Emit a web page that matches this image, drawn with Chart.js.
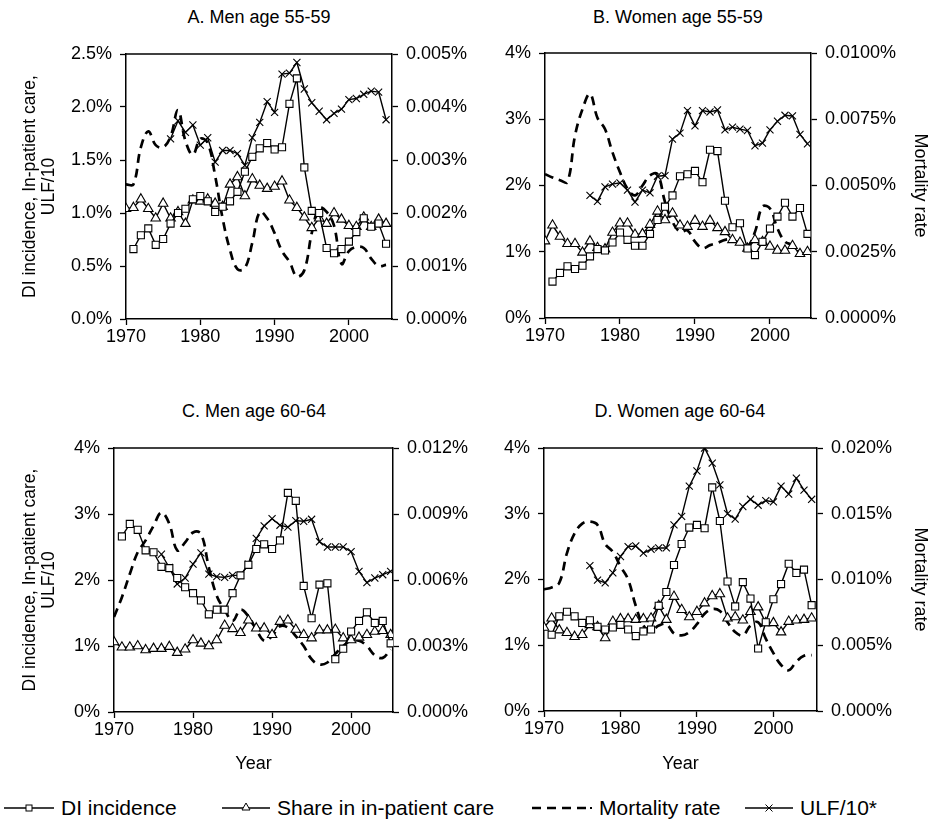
<!DOCTYPE html>
<html>
<head>
<meta charset="utf-8">
<script src="https://cdn.jsdelivr.net/npm/chart.js@4.4.1/dist/chart.umd.min.js"></script>
<style>
  body { margin: 0; background: #fff; width: 936px; height: 824px; position: relative; overflow: hidden;
         font-family: "Liberation Sans", Arial, sans-serif; color: #000; }
  canvas { position: absolute; }
  .ttl { position: absolute; font-size: 18px; line-height: 20px; transform: translateX(-50%); white-space: nowrap; }
  .lg { position: absolute; top: 796px; font-size: 21px; line-height: 24px; white-space: nowrap; }
  .lg svg { position: absolute; top: 1px; }
</style>
</head>
<body>
<div class="ttl" style="left:259px;top:7px">A. Men age 55-59</div>
<div class="ttl" style="left:678px;top:7px">B. Women age 55-59</div>
<div class="ttl" style="left:254px;top:401px">C. Men age 60-64</div>
<div class="ttl" style="left:680px;top:401px">D. Women age 60-64</div>

<canvas id="chartA" width="470" height="360" style="left:0;top:0"></canvas>
<canvas id="chartB" width="466" height="360" style="left:470px;top:0"></canvas>
<canvas id="chartC" width="470" height="410" style="left:0;top:380px"></canvas>
<canvas id="chartD" width="466" height="410" style="left:470px;top:380px"></canvas>

<div id="legend"></div>

<script>
// years on the x axis
const years = [1970,1971,1972,1973,1974,1975,1976,1977,1978,1979,
               1980,1981,1982,1983,1984,1985,1986,1987,1988,1989,
               1990,1991,1992,1993,1994,1995,1996,1997,1998,1999,
               2000,2001,2002,2003,2004,2005];

// A. Men 55-59 (left axis in %, mortality on right axis in %)
const diA    = [null,0.66,0.79,0.855,0.70,0.755,0.90,1.00,1.04,1.13, 1.16,1.11,1.01,1.06,1.11,1.20,1.39,1.53,1.61,1.66,
                1.60,1.62,2.03,2.27,1.43,1.02,1.00,0.67,0.62,0.66, 0.73,0.82,0.95,0.87,0.90,0.71];
const shareA = [1.04,1.05,1.13,1.04,0.95,1.09,0.95,1.01,0.90,1.12, 1.11,1.13,1.09,1.06,1.27,1.34,1.16,1.32,1.26,1.23,
                1.25,1.30,1.12,1.05,0.96,0.86,0.95,0.90,1.00,0.94, 0.88,0.87,0.96,0.87,0.94,0.90];
const mortA  = [0.00254,0.00254,0.00324,0.00354,0.00328,0.00324,0.00344,0.00394,0.00336,0.0031,
                0.0034,0.00332,0.0027,0.0019,0.0013,0.00094,0.00096,0.00144,0.00202,0.0019,
                0.00162,0.00128,0.00108,0.0008,0.00092,0.00162,0.0021,0.00202,0.00176,0.00104,
                0.00128,0.00136,0.00134,0.00114,0.001,0.00102];
const ulfA   = [null,null,null,null,null,null,1.70,1.87,1.76,1.83, 1.64,1.71,1.48,1.59,1.59,1.56,1.45,1.71,1.855,2.05,
                1.95,2.31,2.32,2.42,2.17,2.04,1.96,1.88,1.94,1.98, 2.07,2.08,2.12,2.15,2.14,1.88];

// B. Women 55-59
const diB    = [null,0.55,0.68,0.78,0.74,0.79,0.93,1.04,1.02,1.14, 1.29,1.18,1.09,1.09,1.27,1.48,1.68,1.85,2.14,2.17,
                2.22,2.05,2.54,2.52,1.77,1.37,1.43,1.05,0.95,1.15, 1.35,1.53,1.74,1.53,1.66,1.27];
const shareB = [1.16,1.40,1.23,1.12,1.12,0.99,1.16,1.06,1.04,1.29, 1.43,1.43,1.26,1.27,1.41,1.61,1.48,1.58,1.40,1.38,
                1.47,1.38,1.47,1.36,1.30,1.18,1.14,1.05,1.18,1.15, 1.08,1.02,1.02,1.09,0.97,1.00];
const mortB  = [0.00543,0.0053,0.0052,0.00513,0.00688,0.00788,0.00845,0.00755,0.00713,0.00625,
                0.0055,0.00488,0.00463,0.005,0.00538,0.00543,0.00438,0.00363,0.00325,0.0033,
                0.00288,0.00263,0.00275,0.00283,0.00295,0.00295,0.0028,0.0027,0.00325,0.0042,
                0.00413,0.00338,0.00288,0.00275,0.00245,0.00225];
const ulfB   = [null,null,null,null,null,null,1.85,1.76,1.98,2.02, 2.04,1.93,1.75,1.93,1.89,2.14,2.15,2.70,2.79,3.13,
                2.90,3.13,3.11,3.14,2.84,2.88,2.85,2.83,2.60,2.64, 2.84,2.97,3.06,3.05,2.77,2.63];

// C. Men 60-64
const diC    = [null,2.66,2.85,2.76,2.45,2.42,2.20,2.18,2.03,1.89, 1.80,1.69,1.48,1.55,1.55,1.80,2.07,2.23,2.47,2.54,
                2.47,2.60,3.32,3.20,1.91,1.42,1.93,1.95,0.80,0.96, 1.22,1.38,1.51,1.35,1.38,1.04];
const shareC = [1.06,0.98,0.98,1.00,0.94,0.96,0.96,0.99,0.90,0.95, 1.09,1.04,1.00,1.09,1.31,1.26,1.20,1.39,1.27,1.27,
                1.17,1.37,1.39,1.25,1.17,1.12,1.24,1.24,1.25,1.12, 1.09,1.13,1.17,1.22,1.23,1.17];
const mortC  = [0.00432,0.00522,0.00627,0.00726,0.0078,0.00846,0.00906,0.00855,0.00735,0.00771,
                0.00816,0.0081,0.00657,0.00528,0.00465,0.00414,0.00465,0.00435,0.00375,0.00324,
                0.00345,0.0039,0.00384,0.00345,0.003,0.0024,0.00216,0.00225,0.00264,0.003,
                0.00324,0.00324,0.003,0.00258,0.00246,0.00285];
const ulfC   = [null,null,null,null,null,null,2.39,2.19,1.94,2.03, 2.24,2.41,2.09,2.05,2.04,2.07,2.07,2.24,2.63,2.82,
                2.93,2.83,2.80,2.90,2.89,2.92,2.58,2.50,2.50,2.50, 2.43,2.13,1.96,2.03,2.08,2.13];

// D. Women 60-64
const diD    = [null,1.16,1.44,1.51,1.44,1.34,1.38,1.28,1.24,1.27, 1.31,1.24,1.14,1.21,1.24,1.60,1.81,2.22,2.54,2.79,
                2.83,2.78,3.40,2.89,1.97,1.59,1.96,1.71,0.95,1.35, 1.70,1.93,2.24,2.10,2.15,1.61];
const shareD = [1.27,1.41,1.23,1.19,1.13,1.16,1.31,1.28,1.11,1.36, 1.40,1.40,1.39,1.40,1.41,1.60,1.39,1.74,1.54,1.43,
                1.51,1.64,1.75,1.78,1.41,1.43,1.38,1.51,1.58,1.34, 1.34,1.20,1.36,1.38,1.39,1.41];
const mortD  = [0.00925,0.0094,0.00975,0.012,0.0135,0.01425,0.0144,0.01415,0.0127,0.0121,
                0.011,0.01,0.008,0.0065,0.0061,0.0065,0.0066,0.0059,0.00575,0.006,
                0.0066,0.0074,0.00775,0.0076,0.00675,0.006,0.00575,0.0065,0.00675,0.0055,
                0.0044,0.0035,0.0031,0.00375,0.0042,0.00425];
const ulfD   = [null,null,null,null,null,null,2.21,1.99,1.95,2.10, 2.35,2.50,2.51,2.40,2.46,2.48,2.48,2.83,2.96,3.42,
                3.65,4.00,3.77,3.44,3.00,2.92,3.11,3.22,3.13,3.20, 3.18,3.42,3.30,3.54,3.36,3.22];

const seriesNames = ['DI incidence', 'Share in in-patient care', 'Mortality rate', 'ULF/10*'];
const leftTitle = ['DI incidence, In-patient care,', 'ULF/10'];

Chart.defaults.font.family = '"Liberation Sans", Arial, sans-serif';
Chart.defaults.font.size = 18;
Chart.defaults.color = '#000';

const pts = vals => years.map((yr, i) => ({x: yr, y: vals[i]}));

// top edge of the plot box
const frame = {
  id: 'frame',
  afterDraw(chart) {
    const a = chart.chartArea, ctx = chart.ctx;
    ctx.save();
    ctx.strokeStyle = '#000';
    ctx.lineWidth = 1.5;
    ctx.beginPath();
    ctx.moveTo(a.left, a.top);
    ctx.lineTo(a.right, a.top);
    ctx.stroke();
    ctx.restore();
  }
};

function marked(label, vals, style, r) {
  return {label: label, data: pts(vals), yAxisID: 'y', borderColor: '#000', borderWidth: 1.4,
          pointStyle: style, pointRadius: r, pointBackgroundColor: '#fff', pointBorderColor: '#000',
          pointBorderWidth: 1.1, tension: 0, spanGaps: false};
}

function panel(id, p) {
  const axisGrid = {drawOnChartArea: false, drawTicks: true, tickLength: 6, tickColor: '#000', tickWidth: 1.3};
  const axisBorder = {display: true, color: '#000', width: 1.5};
  new Chart(document.getElementById(id), {
    type: 'line',
    data: {
      datasets: [
        marked(seriesNames[0], p.di, 'rect', 5),
        marked(seriesNames[1], p.share, 'triangle', 5.5),
        {label: seriesNames[2], data: pts(p.mort), yAxisID: 'y2', borderColor: '#000', borderWidth: 2.7,
         borderDash: [9, 6], pointRadius: 0, tension: 0.4},
        marked(seriesNames[3], p.ulf, 'crossRot', 5)
      ]
    },
    options: {
      responsive: false,
      animation: false,
      layout: {padding: {top: p.top, left: 0, right: 0, bottom: 0}},
      plugins: {legend: {display: false}, tooltip: {enabled: false}},
      scales: {
        x: {
          type: 'linear', min: 1970, max: p.xMax,
          afterFit: s => { s.height = p.xh; },
          afterBuildTicks: s => { s.ticks = s.ticks.filter(t => Math.abs(t.value / 10 - Math.round(t.value / 10)) < 0.001); },
          ticks: {stepSize: 10, includeBounds: false, padding: 1, maxRotation: 0, autoSkip: false,
                  callback: v => String(Math.round(v))},
          grid: axisGrid, border: axisBorder,
          title: {display: !!p.xTitle, text: 'Year', font: {size: 18}, padding: {top: 0, bottom: 15}}
        },
        y: {
          position: 'left', min: 0, max: p.yMax,
          afterFit: s => { s.width = p.lw; },
          ticks: {stepSize: p.yStep, padding: 8, callback: v => v.toFixed(p.yDec) + '%'},
          grid: axisGrid, border: axisBorder,
          title: {display: !!p.leftTitle, text: leftTitle, padding: {top: 21, bottom: 0},
                  font: {size: 17.5, lineHeight: 1.08}}
        },
        y2: {
          position: 'right', min: 0, max: p.rMax,
          afterFit: s => { s.width = p.rw; },
          ticks: {stepSize: p.rStep, padding: 8, callback: v => v.toFixed(p.rDec) + '%'},
          grid: axisGrid, border: axisBorder,
          title: {display: !!p.rightTitle, text: 'Mortality rate', font: {size: 18}, padding: {top: 5, bottom: 0}}
        }
      }
    },
    plugins: [frame]
  });
}

panel('chartA', {di: diA, share: shareA, mort: mortA, ulf: ulfA, top: 54, lw: 126, rw: 78, xh: 41, xMax: 2005.8,
                 yMax: 2.5, yStep: 0.5, yDec: 1, rMax: 0.005, rStep: 0.001, rDec: 3, leftTitle: true});
panel('chartB', {di: diB, share: shareB, mort: mortB, ulf: ulfB, top: 53, lw: 75, rw: 125, xh: 42, xMax: 2005.47,
                 yMax: 4, yStep: 1, yDec: 0, rMax: 0.01, rStep: 0.0025, rDec: 4, rightTitle: true});
panel('chartC', {di: diC, share: shareC, mort: mortC, ulf: ulfC, top: 68, lw: 114, rw: 77, xh: 78, xMax: 2005.3,
                 yMax: 4, yStep: 1, yDec: 0, rMax: 0.012, rStep: 0.003, rDec: 3, leftTitle: true, xTitle: true});
panel('chartD', {di: diD, share: shareD, mort: mortD, ulf: ulfD, top: 68, lw: 74, rw: 119, xh: 79, xMax: 2005.7,
                 yMax: 4, yStep: 1, yDec: 0, rMax: 0.02, rStep: 0.005, rDec: 3, rightTitle: true, xTitle: true});

// legend: line sample + marker, then the series name
const legendItems = [
  {name: seriesNames[0], x: 4,   w: 50, mark: 'rect'},
  {name: seriesNames[1], x: 222, w: 48, mark: 'tri'},
  {name: seriesNames[2], x: 532, w: 60, mark: 'dash'},
  {name: seriesNames[3], x: 745, w: 48, mark: 'cross'}
];
const lg = document.getElementById('legend');
legendItems.forEach(it => {
  const m = it.w / 2;
  let mk = '';
  if (it.mark === 'rect') mk = `<rect x="${m-3}" y="8" width="6" height="6" fill="#fff" stroke="#000" stroke-width="1"/>`;
  if (it.mark === 'tri') mk = `<polygon points="${m},6 ${m+4},13 ${m-4},13" fill="#fff" stroke="#000" stroke-width="1"/>`;
  if (it.mark === 'cross') mk = `<path d="M${m-3.5} 7.5 L${m+3.5} 14.5 M${m+3.5} 7.5 L${m-3.5} 14.5" stroke="#000" stroke-width="1"/>`;
  const line = it.mark === 'dash'
    ? `<line x1="0" y1="11" x2="${it.w - 6}" y2="11" stroke="#000" stroke-width="2.7" stroke-dasharray="9 6"/><rect x="${it.w-2}" y="10" width="2" height="2" fill="#000"/>`
    : `<line x1="0" y1="11" x2="${it.w}" y2="11" stroke="#000" stroke-width="1.4"/>`;
  const el = document.createElement('div');
  el.className = 'lg';
  el.style.left = it.x + 'px';
  el.innerHTML = `<svg width="${it.w}" height="22" style="left:0">${line}${mk}</svg>` +
                 `<span style="position:absolute;left:${it.w + 7}px">${it.name}</span>`;
  lg.appendChild(el);
});
</script>
</body>
</html>
